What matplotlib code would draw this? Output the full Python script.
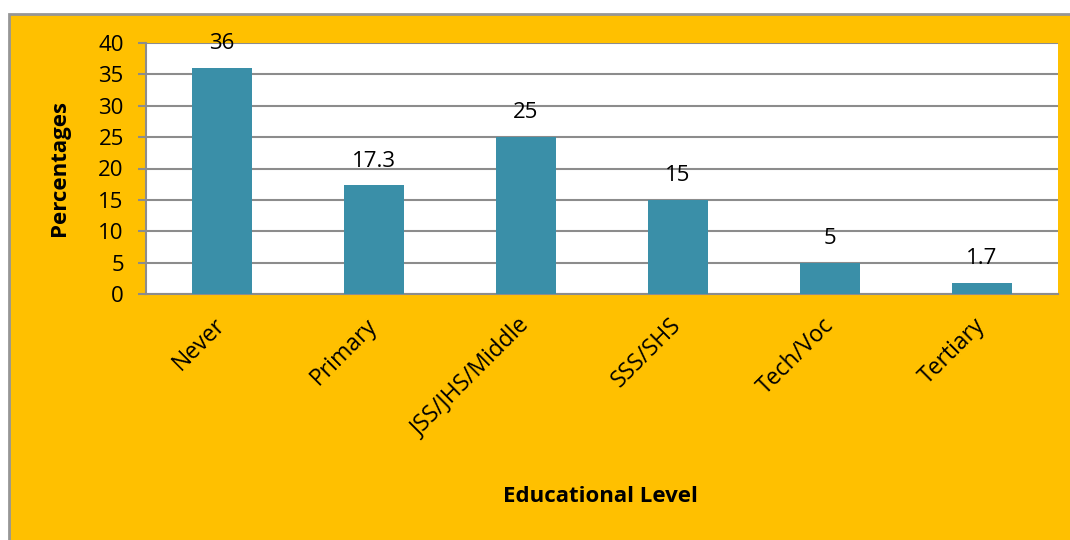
import numpy as np
import matplotlib.pyplot as plt
from matplotlib.patches import Rectangle

levels = ["Never", "Primary", "JSS/JHS/Middle", "SSS/SHS", "Tech/Voc", "Tertiary"]
values = [36, 17.3, 25, 15, 5, 1.7]
value_labels = ["36", "17.3", "25", "15", "5", "1.7"]

plt.rcParams['font.family'] = ['Open Sans', 'DejaVu Sans']

fig = plt.figure(figsize=(10.7, 5.4), dpi=100)
fig.patch.set_facecolor('white')

# yellow chart panel behind the axes
panel = Rectangle((8.5/1070, -0.02), 1.05, 1 - 13.5/540 + 0.02, transform=fig.transFigure,
                  facecolor='#FFC000', edgecolor='#969696', linewidth=2, zorder=-10)
fig.patches.append(panel)

ax = fig.add_axes([146/1070, 1 - 294/540, (1058 - 146)/1070, (294 - 43)/540])
ax.set_facecolor('white')

x = np.arange(len(levels))
ax.bar(x, values, width=0.395, color='#3A8FA8', zorder=3)

for xi, v, lab in zip(x, values, value_labels):
    ax.annotate(lab, (xi, v), xytext=(0, 10), textcoords='offset points',
                ha='center', va='bottom', fontsize=16, color='black')

ax.set_xlim(-0.5, len(levels) - 0.5)
ax.set_ylim(0, 40)
ax.set_yticks(np.arange(0, 41, 5))
ax.yaxis.grid(True, color='#8c8c8c', linewidth=1.5, zorder=0)
ax.set_axisbelow(True)

for s in ['top', 'right']:
    ax.spines[s].set_visible(False)
for s in ['left', 'bottom']:
    ax.spines[s].set_color('#8c8c8c')
    ax.spines[s].set_linewidth(1.5)

ax.tick_params(axis='y', length=6, width=1.5, color='#8c8c8c', labelsize=16, pad=10)
ax.tick_params(axis='x', length=0, labelsize=16.5, pad=20)
ax.set_xticks(x)
ax.set_xticklabels(levels, rotation=45, ha='right', va='center', rotation_mode='anchor')

fig.text(60/1070, 1 - 168/540, "Percentages", rotation=90, ha='center', va='center',
         fontsize=16, fontweight='bold')
fig.text(600/1070, 1 - 497/540, "Educational Level", ha='center', va='center',
         fontsize=16, fontweight='bold')

fig.savefig("out.png", dpi=100)
